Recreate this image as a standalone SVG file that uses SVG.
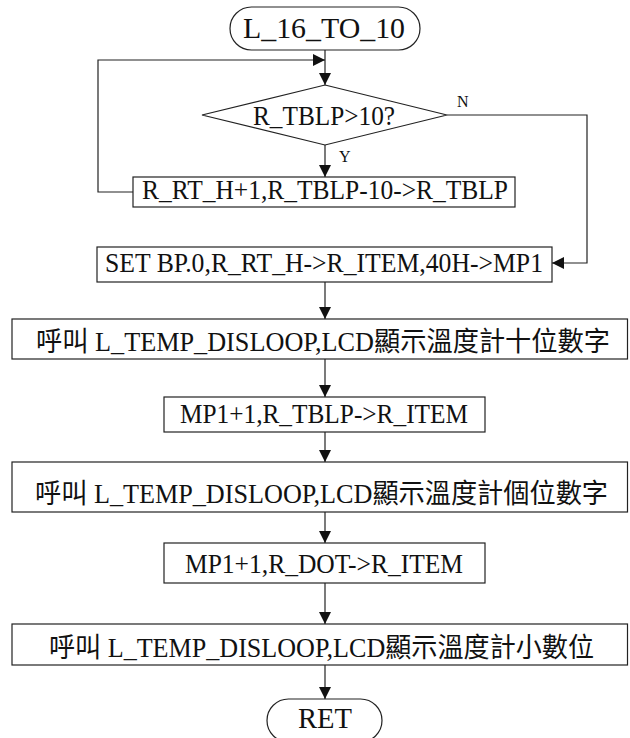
<svg xmlns="http://www.w3.org/2000/svg" width="630" height="738" viewBox="0 0 630 738">
  <style>
    .shape { fill: #fff; stroke: #222; stroke-width: 1.2; }
    .wire { fill: none; stroke: #222; stroke-width: 1.2; }
    .lbl { font-family: "Liberation Serif", "Noto Sans CJK TC", serif; font-size: 28px; fill: #111; text-anchor: middle; }
    .cjk { font-size: 27px; }
    .big { font-size: 30px; }
    .tag { font-family: "Liberation Serif", serif; font-size: 16px; fill: #111; }
  </style>
  <defs>
    <marker id="arrow" markerUnits="userSpaceOnUse" markerWidth="12" markerHeight="12" refX="12" refY="6" orient="auto">
      <path d="M0,0 L12,6 L0,12 z" fill="#111"/>
    </marker>
  </defs>
  <rect width="630" height="738" fill="#fff"/>

  <!-- connectors -->
  <g id="connectors">
    <line class="wire" x1="325" y1="50" x2="325" y2="85" marker-end="url(#arrow)"/>
    <polyline class="wire" points="133,192 98,192 98,60 325,60" marker-end="url(#arrow)"/>
    <line class="wire" x1="325" y1="145" x2="325" y2="177" marker-end="url(#arrow)"/>
    <polyline class="wire" points="447,115 587,115 587,263 552,263" marker-end="url(#arrow)"/>
    <line class="wire" x1="325" y1="282" x2="325" y2="319" marker-end="url(#arrow)"/>
    <line class="wire" x1="325" y1="359" x2="325" y2="397" marker-end="url(#arrow)"/>
    <line class="wire" x1="325" y1="432" x2="325" y2="462" marker-end="url(#arrow)"/>
    <line class="wire" x1="325" y1="512" x2="325" y2="543" marker-end="url(#arrow)"/>
    <line class="wire" x1="325" y1="583" x2="325" y2="624" marker-end="url(#arrow)"/>
    <line class="wire" x1="325" y1="665" x2="325" y2="699" marker-end="url(#arrow)"/>
    <text class="tag" x="457" y="107">N</text>
    <text class="tag" x="339" y="162">Y</text>
  </g>

  <!-- nodes -->
  <g id="start">
    <rect class="shape" x="230" y="7" width="190" height="43" rx="21.5" ry="21.5"/>
    <text class="lbl big" x="324" y="38" textLength="162" lengthAdjust="spacingAndGlyphs">L_16_TO_10</text>
  </g>

  <g id="check">
    <polygon class="shape" points="325,85 447,115 325,145 202,115"/>
    <text class="lbl" x="324" y="125" textLength="142" lengthAdjust="spacingAndGlyphs">R_TBLP&gt;10?</text>
  </g>

  <g id="subtract">
    <rect class="shape" x="133" y="177" width="382" height="30"/>
    <text class="lbl" x="325" y="199" textLength="366" lengthAdjust="spacingAndGlyphs">R_RT_H+1,R_TBLP-10-&gt;R_TBLP</text>
  </g>

  <g id="setup">
    <rect class="shape" x="97" y="247" width="455" height="35"/>
    <text class="lbl" x="324" y="272" textLength="438" lengthAdjust="spacingAndGlyphs">SET BP.0,R_RT_H-&gt;R_ITEM,40H-&gt;MP1</text>
  </g>

  <g id="show-tens">
    <rect class="shape" x="12" y="319" width="615.5" height="40"/>
    <text class="lbl cjk" x="323" y="351" textLength="574" lengthAdjust="spacingAndGlyphs">呼叫 L_TEMP_DISLOOP,LCD顯示溫度計十位數字</text>
  </g>

  <g id="next-ones">
    <rect class="shape" x="164" y="397" width="321" height="35"/>
    <text class="lbl" x="324" y="423" textLength="288" lengthAdjust="spacingAndGlyphs">MP1+1,R_TBLP-&gt;R_ITEM</text>
  </g>

  <g id="show-ones">
    <rect class="shape" x="12" y="462" width="615.5" height="50"/>
    <text class="lbl cjk" x="321.5" y="503" textLength="573" lengthAdjust="spacingAndGlyphs">呼叫 L_TEMP_DISLOOP,LCD顯示溫度計個位數字</text>
  </g>

  <g id="next-dot">
    <rect class="shape" x="164" y="543" width="321" height="40"/>
    <text class="lbl" x="324" y="573" textLength="278" lengthAdjust="spacingAndGlyphs">MP1+1,R_DOT-&gt;R_ITEM</text>
  </g>

  <g id="show-decimal">
    <rect class="shape" x="12" y="624" width="615.5" height="41"/>
    <text class="lbl cjk" x="321.5" y="657" textLength="545" lengthAdjust="spacingAndGlyphs">呼叫 L_TEMP_DISLOOP,LCD顯示溫度計小數位</text>
  </g>

  <g id="end">
    <rect class="shape" x="267" y="699" width="115" height="43" rx="21.5" ry="21.5"/>
    <text class="lbl big" x="325" y="728" textLength="54" lengthAdjust="spacingAndGlyphs">RET</text>
  </g>
</svg>
